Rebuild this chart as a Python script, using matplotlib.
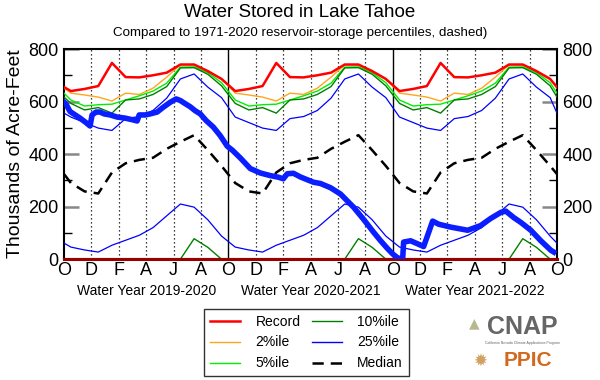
import matplotlib
matplotlib.use("Agg")
import matplotlib.pyplot as plt
from matplotlib.lines import Line2D
import numpy as np

plt.rcParams['font.family'] = ['Liberation Sans', 'DejaVu Sans']

# ---- climatology (mid-month values, Oct..Sep), thousands of acre-feet ----
months_lbl = ["O", "D", "F", "A", "J", "A"]
year_labels = ["Water Year 2019-2020", "Water Year 2020-2021", "Water Year 2021-2022"]

record_hi = [640, 648, 659, 747, 693, 692, 700, 710, 741, 741, 716, 686]
p98 = [632, 625, 617, 602, 632, 627, 651, 693, 740, 740, 717, 688]
p95 = [606, 583, 588, 590, 606, 622, 640, 670, 731, 732, 710, 672]
p90 = [593, 568, 577, 556, 606, 610, 627, 657, 728, 729, 704, 660]
p75 = [541, 520, 499, 490, 535, 543, 566, 613, 686, 705, 655, 615]
median = [290, 258, 250, 330, 365, 378, 386, 420, 447, 472, 415, 355]
p25 = [46, 35, 27, 53, 72, 91, 120, 165, 210, 198, 150, 88]
p10 = [0, 0, 0, 0, 0, 0, 0, 0, 0, 78, 45, 0]
record_lo = [0, 0, 0, 0, 0, 0, 0, 0, 0, 0, 0, 0]
# values read at the Oct 1 edges
edge = {"record_hi": 655, "p98": 651, "p95": 632, "p90": 617, "p75": 556,
        "median": 324, "p25": 61, "p10": 0, "record_lo": 0}

# ---- observed storage (months since 1 Oct 2019, value) ----
obs_t = [0.0, 0.15, 0.44, 1.17, 1.6, 1.9, 2.05, 2.34, 2.63, 2.93, 3.37, 3.88, 4.46,
         5.05, 5.34, 5.49, 5.93, 6.29, 6.8, 7.24, 7.75, 8.19, 8.49, 8.85, 9.22, 9.58,
         9.95, 10.39, 10.9, 11.41, 11.92,
         12.29, 12.88, 13.6, 14.34, 15.07, 15.65, 16.02, 16.3, 16.75, 17.26, 18.21,
         18.73, 19.46, 20.19, 21.14, 21.87, 22.6, 23.12, 23.63, 24.0, 24.36, 24.73,
         24.8, 25.31, 25.75, 26.26, 26.55, 26.92, 27.36, 28.24, 29.48, 30.43, 31.16,
         31.9, 32.26, 32.85, 33.36, 34.09, 34.82, 35.55, 35.77]
obs_v = [598, 590, 562, 537, 520, 507, 549, 560, 560, 553, 549, 541, 537,
         530, 526, 549, 549, 553, 560, 578, 597, 610, 604, 592, 580, 565,
         553, 527, 503, 470, 430,
         415, 385, 345, 328, 318, 312, 306, 325, 327, 313, 293,
         288, 272, 248, 198, 152, 103, 70, 40, 20, 5, 0,
         65, 70, 60, 48, 90, 145, 133, 122, 110, 128, 155,
         178, 183, 158, 140, 110, 70, 34, 27]

n_years = 3
mid = np.concatenate([np.arange(12) + 0.5 + 12 * y for y in range(n_years)])
x_clim = np.concatenate([[0], mid, [12 * n_years]])


def clim(vals, key):
    v = np.tile(vals, n_years)
    return np.concatenate([[edge[key]], v, [edge[key]]])


fig = plt.figure(figsize=(6, 3.8), dpi=100)
ax = fig.add_axes([0.1067, 0.318, 0.8216, 0.553])

ax.set_xlim(0, 36)
ax.set_ylim(0, 800)

# vertical guides
for m in range(2, 36, 2):
    if m % 12 == 0:
        ax.axvline(m, color="black", lw=1.0, zorder=1)
    else:
        ax.axvline(m, color="black", lw=0.9, ls=(0, (1, 2.2)), zorder=1)

ax.plot(x_clim, clim(p98, "p98"), color="#FFA520", lw=1.0, zorder=3)
ax.plot(x_clim, clim(p95, "p95"), color="#00EE00", lw=1.0, zorder=3)
ax.plot(x_clim, clim(p90, "p90"), color="#008000", lw=1.0, zorder=3)
ax.plot(x_clim, clim(p75, "p75"), color="#0000FF", lw=0.9, zorder=3)
ax.plot(x_clim, clim(record_hi, "record_hi"), color="#FF0000", lw=1.8, zorder=4)
ax.plot(x_clim, clim(median, "median"), color="black", lw=1.8,
        dashes=(4.5, 2.8), zorder=3)
ax.plot(x_clim, clim(p25, "p25"), color="#0000FF", lw=0.9, zorder=3)
ax.plot(x_clim, clim(p10, "p10"), color="#008000", lw=1.0, zorder=3)
ax.plot(x_clim, clim(record_lo, "record_lo"), color="#990000", lw=2.2,
        zorder=5, clip_on=False)

ax.plot(obs_t, obs_v, color="#0A1EFF", lw=4.0, solid_joinstyle="round", zorder=6)

# ticks
ax.set_xticks(np.arange(0, 37, 2))
ax.set_xticklabels([months_lbl[(i // 2) % 6] for i in range(0, 37, 2)],
                   fontsize=13)
ax.tick_params(axis="x", length=0, pad=2)

ax.set_yticks([0, 200, 400, 600, 800])
ax.set_yticks([100, 300, 500, 700], minor=True)
ax.tick_params(axis="y", which="major", direction="in", length=11, width=1.8,
               color="#888888", labelsize=13, left=True, right=True,
               labelleft=True, labelright=True, pad=4)
ax.tick_params(axis="y", which="minor", direction="in", length=6, width=1,
               color="black", left=True, right=True)

for s in ax.spines.values():
    s.set_linewidth(1.5)

ax.set_ylabel("Thousands of Acre-Feet", fontsize=14, labelpad=3)

for i, lbl in enumerate(year_labels):
    ax.text(6 + 12 * i, -0.118, lbl, transform=ax.get_xaxis_transform(),
            ha="center", va="top", fontsize=10)

fig.text(0.5, 0.968, "Water Stored in Lake Tahoe", ha="center", va="center",
         fontsize=13.5)
fig.text(0.5, 0.913, "Compared to 1971-2020 reservoir-storage percentiles, dashed)",
         ha="center", va="center", fontsize=9.6)

handles = [
    Line2D([], [], color="#FF0000", lw=1.8),
    Line2D([], [], color="#FFA520", lw=1.0),
    Line2D([], [], color="#00EE00", lw=1.0),
    Line2D([], [], color="#008000", lw=1.0),
    Line2D([], [], color="#0000FF", lw=1.0),
    Line2D([], [], color="black", lw=1.8, dashes=(4.5, 2.8)),
]
labels = ["Record", "2%ile", "5%ile", "10%ile", "25%ile", "Median"]
leg = fig.legend(handles, labels, ncol=2, loc="upper left",
                 bbox_to_anchor=(204 / 600, 1 - 309 / 380),
                 fontsize=10, frameon=True, fancybox=False, edgecolor="black",
                 handlelength=2.2, labelspacing=0.5, columnspacing=0.8,
                 borderpad=0.4, handletextpad=1.1, borderaxespad=0)
leg.get_frame().set_linewidth(1.0)

# logos as text
fig.text(0.87, 0.14, "CNAP", ha="center", va="center", fontsize=18,
         color="#666666", fontweight="bold")
fig.text(0.87, 0.098, "California Nevada Climate Applications Program",
         ha="center", va="center", fontsize=2.5, color="#666666")
fig.text(0.79, 0.148, "\u25B2", ha="center", va="center", fontsize=10,
         color="#B8B890", family=["DejaVu Sans"])
fig.text(0.88, 0.05, "PPIC", ha="center", va="center", fontsize=15,
         color="#D2691E", fontweight="bold")
fig.text(0.8, 0.05, "\u2739", ha="center", va="center", fontsize=12,
         color="#D2A060", family=["DejaVu Sans"])

fig.savefig("out.png", dpi=100)
